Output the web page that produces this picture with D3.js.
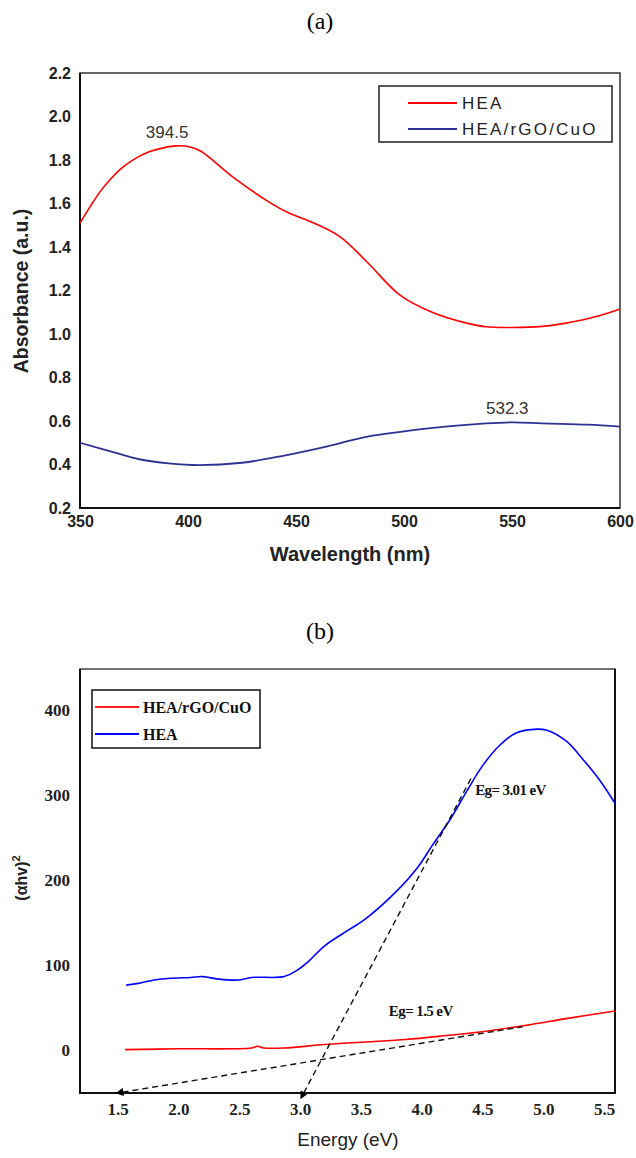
<!DOCTYPE html>
<html>
<head>
<meta charset="utf-8">
<script src="https://cdn.jsdelivr.net/npm/d3@7"></script>
<style>
  body { margin: 0; background: #fff; }
  svg { display: block; }
</style>
</head>
<body>
<script>
// ---- panel (a) data: UV-vis absorbance
const wlHEA = [350, 355, 359, 364, 369, 373, 378, 382, 389, 394.5, 401, 406, 421, 437, 447, 456, 470, 483, 498, 513, 529, 538, 550, 564, 575, 589, 600];
const absHEA = [1.51, 1.59, 1.65, 1.71, 1.76, 1.79, 1.82, 1.838, 1.857, 1.865, 1.86, 1.84, 1.72, 1.61, 1.555, 1.52, 1.45, 1.33, 1.18, 1.10, 1.05, 1.033, 1.03, 1.035, 1.05, 1.08, 1.115];
const wlComp = [350, 365, 378, 391, 405, 425, 444, 463, 482, 500, 519, 538, 551, 564, 585, 600];
const absComp = [0.50, 0.458, 0.423, 0.405, 0.397, 0.408, 0.44, 0.48, 0.526, 0.552, 0.574, 0.589, 0.594, 0.589, 0.583, 0.574];
const xTicksA = [350, 400, 450, 500, 550, 600];
const yTicksA = [0.2, 0.4, 0.6, 0.8, 1.0, 1.2, 1.4, 1.6, 1.8, 2.0, 2.2];
const legendA = ["HEA", "HEA/rGO/CuO"];
const peaksA = [{x: 394.5, y: 1.865, label: "394.5"}, {x: 552, y: 0.594, label: "532.3"}];

// ---- panel (b) data: Tauc plot
const eHEA = [1.57, 1.67, 1.8, 1.93, 2.1, 2.2, 2.33, 2.5, 2.6, 2.87, 2.97, 3.07, 3.2, 3.4, 3.53, 3.79, 3.97, 4.09, 4.23, 4.37, 4.50, 4.64, 4.78, 4.92, 5.03, 5.19, 5.33, 5.46, 5.59];
const taucHEA = [76, 78, 82, 84, 85, 86, 83, 82, 85, 86, 93, 104, 122, 141, 153, 186, 215, 241, 270, 304, 334, 358, 373, 377, 376, 363, 341, 318, 290];
const eComp = [1.56, 2.0, 2.6, 2.65, 2.7, 2.87, 3.2, 3.53, 3.87, 4.2, 4.53, 4.87, 5.2, 5.59];
const taucComp = [0, 1, 2, 4, 2, 2, 6, 9, 12, 16.6, 21.7, 28.9, 36.8, 45.5];
const tangentHEA = [[3.03, -51], [4.42, 323]];
const tangentComp = [[1.54, -50], [4.83, 27]];
const xTicksB = [1.5, 2.0, 2.5, 3.0, 3.5, 4.0, 4.5, 5.0, 5.5];
const yTicksB = [0, 100, 200, 300, 400];
const legendB = ["HEA/rGO/CuO", "HEA"];
const gapLabels = [{x: 4.44, y: 300, label: "Eg= 3.01 eV"}, {x: 3.73, y: 40, label: "Eg= 1.5 eV"}];

const W = 636, H = 1158;
const svg = d3.select("body").append("svg").attr("width", W).attr("height", H);

svg.append("defs").append("marker")
    .attr("id", "arrow")
    .attr("viewBox", "0 0 10 10")
    .attr("refX", 1).attr("refY", 5)
    .attr("markerWidth", 9).attr("markerHeight", 8)
    .attr("markerUnits", "userSpaceOnUse")
    .attr("orient", "auto-start-reverse")
  .append("path")
    .attr("d", "M0,0 L10,5 L0,10 z")
    .attr("fill", "#000");

const serif = "'Liberation Serif', 'Times New Roman', serif";
const sans = "'Liberation Sans', Arial, sans-serif";

// titles
svg.append("text").attr("x", 320).attr("y", 29).attr("text-anchor", "middle")
    .attr("font-family", serif).attr("font-size", 24).text("(a)");
svg.append("text").attr("x", 320).attr("y", 639).attr("text-anchor", "middle")
    .attr("font-family", serif).attr("font-size", 24).text("(b)");

// ================= panel (a)
const xa = d3.scaleLinear().domain([350, 600]).range([80, 620]);
const ya = d3.scaleLinear().domain([0.2, 2.2]).range([508, 73]);

const ga = svg.append("g");

ga.append("g")
    .attr("transform", "translate(0,508)")
    .call(d3.axisBottom(xa).tickValues(xTicksA).tickSize(0).tickPadding(8).tickFormat(d3.format("d")))
    .call(g => g.select(".domain").remove())
    .selectAll("text")
    .attr("font-family", sans).attr("font-weight", "bold").attr("font-size", 16)
    .attr("fill", "#222");

ga.append("g")
    .attr("transform", "translate(80,0)")
    .call(d3.axisLeft(ya).tickValues(yTicksA).tickSize(0).tickPadding(9).tickFormat(d3.format(".1f")))
    .call(g => g.select(".domain").remove())
    .selectAll("text")
    .attr("font-family", sans).attr("font-weight", "bold").attr("font-size", 16)
    .attr("fill", "#222");

// frame
ga.append("rect").attr("x", 80).attr("y", 73).attr("width", 540).attr("height", 435)
    .attr("fill", "none").attr("stroke", "#333").attr("stroke-width", 1.5);
ga.append("path").attr("d", "M80,73 V508 H620").attr("fill", "none")
    .attr("stroke", "#111").attr("stroke-width", 2);

const lineA = d3.line().x(d => xa(d[0])).y(d => ya(d[1])).curve(d3.curveCatmullRom.alpha(0.5));

ga.append("path").datum(d3.zip(wlHEA, absHEA))
    .attr("d", lineA).attr("fill", "none").attr("stroke", "#ff0000").attr("stroke-width", 1.6);
ga.append("path").datum(d3.zip(wlComp, absComp))
    .attr("d", lineA).attr("fill", "none").attr("stroke", "#2e3192").attr("stroke-width", 1.8);

ga.selectAll("text.peak").data(peaksA).enter().append("text")
    .attr("class", "peak")
    .attr("x", d => xa(d.x) - 9).attr("y", d => ya(d.y) - 8)
    .attr("text-anchor", "middle")
    .attr("font-family", sans).attr("font-size", 17).attr("fill", "#333")
    .text(d => d.label);

ga.append("text").attr("transform", "translate(28,291) rotate(-90)")
    .attr("text-anchor", "middle")
    .attr("font-family", sans).attr("font-weight", "bold").attr("font-size", 19.5).attr("fill", "#222")
    .text("Absorbance (a.u.)");
ga.append("text").attr("x", 350).attr("y", 561)
    .attr("text-anchor", "middle")
    .attr("font-family", sans).attr("font-weight", "bold").attr("font-size", 20).attr("fill", "#222")
    .text("Wavelength (nm)");

// legend (a)
const legA = ga.append("g");
legA.append("rect").attr("x", 379).attr("y", 86).attr("width", 233).attr("height", 56)
    .attr("fill", "#fff").attr("stroke", "#222").attr("stroke-width", 1.5);
const colorsA = ["#ff0000", "#2e3192"];
legendA.forEach((name, i) => {
  const y = 103 + i * 26;
  legA.append("line").attr("x1", 408).attr("x2", 457).attr("y1", y).attr("y2", y)
      .attr("stroke", colorsA[i]).attr("stroke-width", 2);
  legA.append("text").attr("x", 462).attr("y", y + 6)
      .attr("font-family", sans).attr("font-size", 17).attr("letter-spacing", 2.2)
      .attr("fill", "#222").text(name);
});

// ================= panel (b)
const xb = d3.scaleLinear().domain([1.19, 5.59]).range([80, 615]);
const yb = d3.scaleLinear().domain([-51, 448]).range([1093, 669]);

const gb = svg.append("g");

gb.append("g")
    .attr("transform", "translate(0,1093)")
    .call(d3.axisBottom(xb).tickValues(xTicksB).tickSize(0).tickPadding(10).tickFormat(d3.format(".1f")))
    .call(g => g.select(".domain").remove())
    .selectAll("text")
    .attr("font-family", serif).attr("font-weight", "bold").attr("font-size", 17)
    .attr("fill", "#222");

gb.append("g")
    .attr("transform", "translate(80,0)")
    .call(d3.axisLeft(yb).tickValues(yTicksB).tickSize(0).tickPadding(10).tickFormat(d3.format("d")))
    .call(g => g.select(".domain").remove())
    .selectAll("text")
    .attr("font-family", serif).attr("font-weight", "bold").attr("font-size", 17)
    .attr("fill", "#222");

gb.append("rect").attr("x", 80).attr("y", 669).attr("width", 535).attr("height", 424)
    .attr("fill", "none").attr("stroke", "#444").attr("stroke-width", 1.5);
gb.append("path").attr("d", "M80,669 V1093 H615 V669").attr("fill", "none")
    .attr("stroke", "#111").attr("stroke-width", 2);

const lineB = d3.line().x(d => xb(d[0])).y(d => yb(d[1])).curve(d3.curveCatmullRom.alpha(0.5));

gb.append("path").datum(d3.zip(eHEA, taucHEA))
    .attr("d", lineB).attr("fill", "none").attr("stroke", "#0000ff").attr("stroke-width", 1.6);
gb.append("path").datum(d3.zip(eComp, taucComp))
    .attr("d", lineB).attr("fill", "none").attr("stroke", "#ff0000").attr("stroke-width", 1.6);

const straight = d3.line().x(d => xb(d[0])).y(d => yb(d[1]));
[tangentHEA, tangentComp].forEach(seg => {
  gb.append("path").datum(seg)
      .attr("d", straight).attr("fill", "none")
      .attr("stroke", "#111").attr("stroke-width", 1.4)
      .attr("stroke-dasharray", "6,4")
      .attr("marker-start", "url(#arrow)");
});

gb.selectAll("text.gap").data(gapLabels).enter().append("text")
    .attr("class", "gap")
    .attr("x", d => xb(d.x)).attr("y", d => yb(d.y))
    .attr("font-family", serif).attr("font-weight", "bold").attr("font-size", 15)
    .attr("letter-spacing", -0.6).attr("fill", "#111")
    .text(d => d.label);

const ylabB = gb.append("text").attr("transform", "translate(27,878) rotate(-90)")
    .attr("text-anchor", "middle")
    .attr("font-family", sans).attr("font-weight", "bold").attr("font-size", 16).attr("fill", "#222");
ylabB.append("tspan").text("(αhv)");
ylabB.append("tspan").attr("dy", -7).attr("font-size", 11).text("2");

gb.append("text").attr("x", 348).attr("y", 1146)
    .attr("text-anchor", "middle")
    .attr("font-family", sans).attr("font-size", 19).attr("fill", "#222")
    .text("Energy (eV)");

// legend (b)
const legB = gb.append("g");
legB.append("rect").attr("x", 92).attr("y", 690).attr("width", 168).attr("height", 58)
    .attr("fill", "#fff").attr("stroke", "#111").attr("stroke-width", 1.5);
const colorsB = ["#ff2020", "#0000ff"];
legendB.forEach((name, i) => {
  const y = 707 + i * 27;
  legB.append("line").attr("x1", 95).attr("x2", 139).attr("y1", y).attr("y2", y)
      .attr("stroke", colorsB[i]).attr("stroke-width", 2);
  legB.append("text").attr("x", 143).attr("y", y + 6)
      .attr("font-family", serif).attr("font-weight", "bold").attr("font-size", 16)
      .attr("fill", "#111").text(name);
});
</script>
</body>
</html>
